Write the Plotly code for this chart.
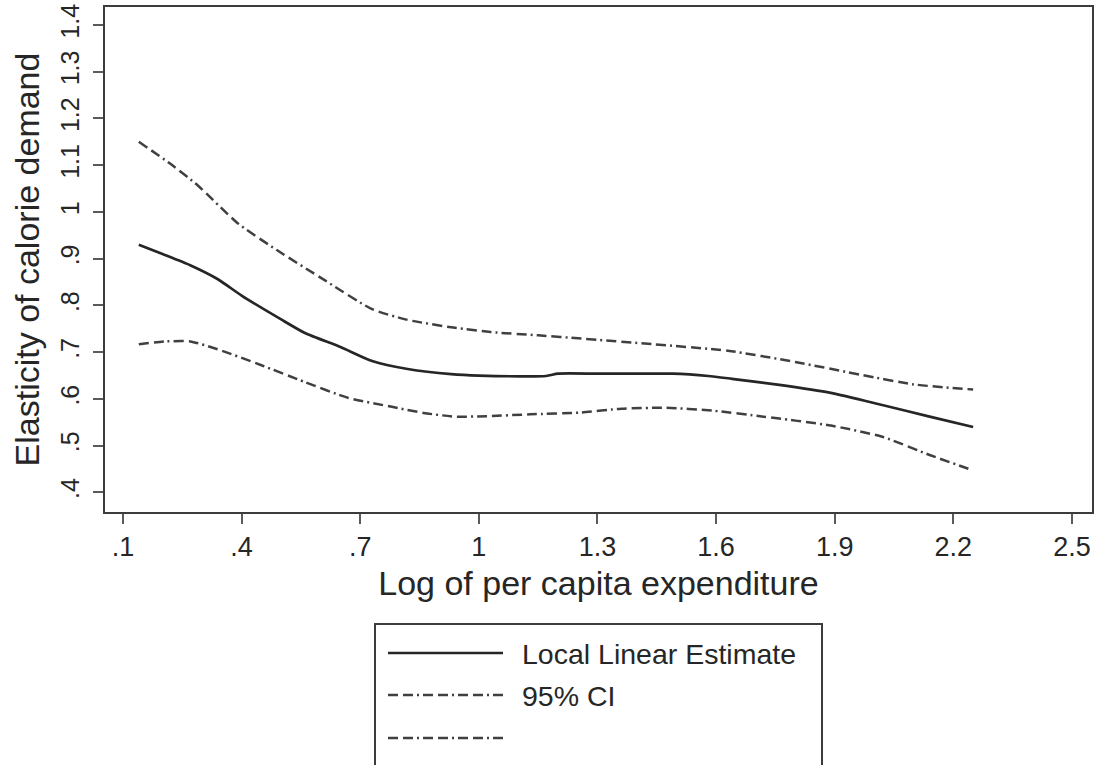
import plotly.graph_objects as go

# ---- data ----
est_x = [0.14, 0.20, 0.27, 0.34, 0.40, 0.50, 0.56, 0.65, 0.73, 0.82, 0.93, 1.00,
         1.17, 1.20, 1.30, 1.40, 1.49, 1.58, 1.64, 1.76, 1.89, 2.02, 2.14, 2.25]
est_y = [0.930, 0.910, 0.886, 0.856, 0.821, 0.770, 0.741, 0.711, 0.681, 0.664, 0.653, 0.650,
         0.649, 0.654, 0.654, 0.654, 0.654, 0.649, 0.643, 0.630, 0.613, 0.587, 0.562, 0.540]

up_x = [0.14, 0.22, 0.29, 0.39, 0.49, 0.61, 0.73, 0.82, 0.94, 1.03, 1.15, 1.26,
        1.44, 1.63, 1.80, 1.97, 2.10, 2.25]
up_y = [1.150, 1.103, 1.056, 0.976, 0.918, 0.854, 0.792, 0.769, 0.752, 0.743, 0.736, 0.729,
        0.717, 0.703, 0.679, 0.651, 0.631, 0.620]

lo_x = [0.14, 0.21, 0.27, 0.34, 0.45, 0.56, 0.67, 0.78, 0.86, 0.94, 1.02, 1.13,
        1.26, 1.36, 1.47, 1.59, 1.72, 1.89, 2.02, 2.14, 2.25]
lo_y = [0.717, 0.723, 0.723, 0.706, 0.672, 0.636, 0.602, 0.583, 0.570, 0.562, 0.563, 0.567,
        0.571, 0.579, 0.581, 0.575, 0.562, 0.543, 0.519, 0.480, 0.447]

x_ticks = [0.1, 0.4, 0.7, 1.0, 1.3, 1.6, 1.9, 2.2, 2.5]
x_tick_labels = [".1", ".4", ".7", "1", "1.3", "1.6", "1.9", "2.2", "2.5"]
y_ticks = [0.4, 0.5, 0.6, 0.7, 0.8, 0.9, 1.0, 1.1, 1.2, 1.3, 1.4]
y_tick_labels = [".4", ".5", ".6", ".7", ".8", ".9", "1", "1.1", "1.2", "1.3", "1.4"]

legend_labels = ["Local Linear Estimate", "95% CI", ""]

# ---- styling ----
W, H = 1099, 765
ML, MR, MT, MB = 105, 7, 7, 253
PW, PH = W - ML - MR, H - MT - MB
FONT = "Liberation Sans, Arial, Helvetica, sans-serif"
INK = "#262626"
CI_COL = "#404040"
DASH = "10px,5px,10px,4px,2px,4px"


def px(xp):
    return (xp - ML) / PW


def py(yp):
    return (H - MB - yp) / PH


fig = go.Figure()
fig.add_trace(go.Scatter(x=est_x, y=est_y, mode="lines", name=legend_labels[0],
                         line=dict(color=INK, width=2.7, shape="spline", smoothing=0.6)))
fig.add_trace(go.Scatter(x=up_x, y=up_y, mode="lines", name=legend_labels[1],
                         line=dict(color=CI_COL, width=2.5, dash=DASH, shape="spline", smoothing=0.6)))
fig.add_trace(go.Scatter(x=lo_x, y=lo_y, mode="lines", name=legend_labels[2],
                         line=dict(color=CI_COL, width=2.5, dash=DASH, shape="spline", smoothing=0.6)))

axis_common = dict(showgrid=False, zeroline=False, showline=True, mirror=True,
                   linecolor="#3c3c3c", linewidth=2, ticks="outside", ticklen=10,
                   tickwidth=2, tickcolor="#5a5a5a")

fig.update_layout(
    width=W, height=H,
    margin=dict(l=ML, r=MR, t=MT, b=MB, autoexpand=False),
    paper_bgcolor="white", plot_bgcolor="white",
    showlegend=False,
    xaxis=dict(range=[0.0545, 2.5506], tickmode="array", tickvals=x_ticks,
               ticktext=x_tick_labels,
               tickfont=dict(family=FONT, size=27, color=INK),
               title=dict(text="Log of per capita expenditure",
                          font=dict(family=FONT, size=34, color=INK), standoff=10),
               **axis_common),
    yaxis=dict(range=[0.358, 1.4385], tickmode="array", tickvals=y_ticks,
               ticktext=y_tick_labels, tickangle=-90, ticklabelstandoff=4,
               tickfont=dict(family=FONT, size=25, color=INK),
               title=dict(text="Elasticity of calorie demand",
                          font=dict(family=FONT, size=34, color=INK), standoff=6),
               **axis_common),
)

# ---- legend box drawn by hand ----
shapes = [dict(type="rect", xref="paper", yref="paper",
               x0=px(375), x1=px(822), y0=py(790), y1=py(624),
               line=dict(color="#3c3c3c", width=2), fillcolor="rgba(0,0,0,0)")]
rows = [653, 695, 738]
styles = [dict(color=INK, width=2.7), dict(color=CI_COL, width=2.5, dash=DASH),
          dict(color=CI_COL, width=2.5, dash=DASH)]
for r, st in zip(rows, styles):
    shapes.append(dict(type="line", xref="paper", yref="paper",
                       x0=px(388), x1=px(503), y0=py(r), y1=py(r), line=st))
fig.update_layout(shapes=shapes)

for r, lab in zip(rows, legend_labels):
    if lab:
        fig.add_annotation(x=px(520), y=py(r + 1), xref="paper", yref="paper",
                           text=lab, showarrow=False, xanchor="left", yanchor="middle",
                           font=dict(family=FONT, size=28.5, color=INK))

fig.write_html("out.html", config={"displayModeBar": False},
               post_script="document.body.style.margin='0';document.body.style.overflow='hidden';")
